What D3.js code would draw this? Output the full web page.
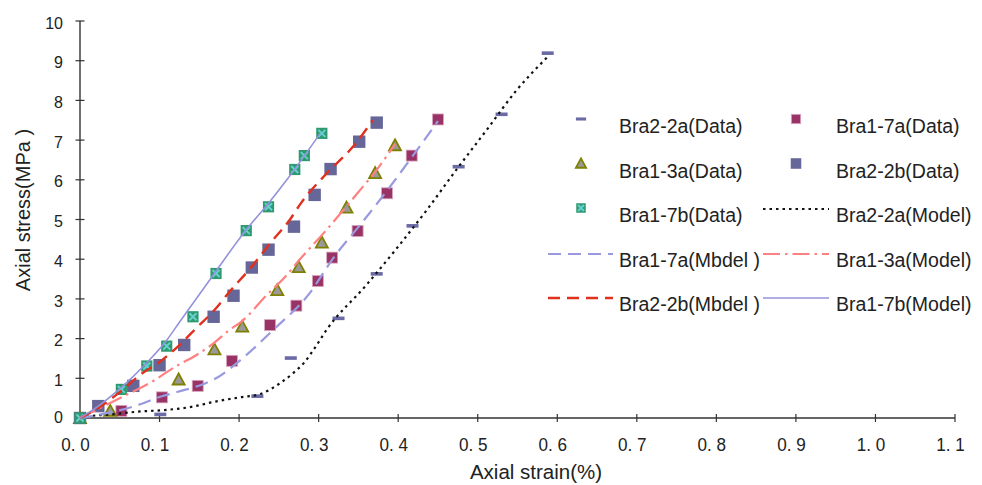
<!DOCTYPE html>
<html>
<head>
<meta charset="utf-8">
<script src="https://cdn.jsdelivr.net/npm/d3@7/dist/d3.min.js"></script>
<style>
  html, body { margin: 0; padding: 0; background: #fff; }
  svg { display: block; font-family: "Liberation Sans", Arial, sans-serif; }
</style>
</head>
<body>
<svg id="chart" width="982" height="485"></svg>
<script>
// ---- Measured data (axial strain in %, axial stress in MPa) ----
const bra22aDataStrain = [0.101, 0.223, 0.265, 0.325, 0.373, 0.418, 0.476, 0.530, 0.588];
const bra22aDataStress = [0.09, 0.55, 1.51, 2.51, 3.63, 4.84, 6.33, 7.65, 9.19];

const bra17aDataStrain = [0, 0.052, 0.103, 0.148, 0.191, 0.239, 0.272, 0.299, 0.317, 0.349, 0.386, 0.417, 0.450];
const bra17aDataStress = [0, 0.18, 0.52, 0.81, 1.44, 2.34, 2.83, 3.45, 4.04, 4.71, 5.66, 6.61, 7.52];

const bra13aDataStrain = [0, 0.038, 0.124, 0.169, 0.204, 0.248, 0.275, 0.304, 0.335, 0.371, 0.396];
const bra13aDataStress = [0, 0.18, 0.97, 1.73, 2.30, 3.22, 3.80, 4.42, 5.30, 6.17, 6.87];

const bra22bDataStrain = [0, 0.023, 0.067, 0.100, 0.131, 0.168, 0.193, 0.216, 0.237, 0.269, 0.295, 0.315, 0.351, 0.373];
const bra22bDataStress = [0, 0.30, 0.81, 1.33, 1.84, 2.55, 3.08, 3.79, 4.24, 4.82, 5.62, 6.27, 6.96, 7.44];

const bra17bDataStrain = [0, 0.052, 0.084, 0.109, 0.142, 0.171, 0.209, 0.237, 0.270, 0.282, 0.304];
const bra17bDataStress = [0, 0.72, 1.31, 1.81, 2.55, 3.64, 4.72, 5.32, 6.26, 6.61, 7.17];

// ---- Model curves ----
const bra22aModelStrain = [0, 0.010, 0.039, 0.073, 0.106, 0.140, 0.169, 0.201, 0.226, 0.251, 0.268, 0.282, 0.295, 0.310, 0.360, 0.398, 0.436, 0.473, 0.511, 0.549, 0.588];
const bra22aModelStress = [0, 0.04, 0.09, 0.16, 0.20, 0.28, 0.41, 0.52, 0.60, 0.87, 1.13, 1.40, 1.76, 2.22, 3.35, 4.27, 5.24, 6.25, 7.25, 8.26, 9.10];

const bra17aModelStrain = [0, 0.023, 0.069, 0.102, 0.123, 0.157, 0.171, 0.197, 0.243, 0.287, 0.321, 0.352, 0.385, 0.419, 0.450];
const bra17aModelStress = [0, 0.08, 0.30, 0.54, 0.66, 0.87, 1.00, 1.38, 2.22, 3.10, 4.10, 4.86, 5.70, 6.62, 7.48];

const bra13aModelStrain = [0, 0.030, 0.058, 0.090, 0.123, 0.146, 0.169, 0.188, 0.203, 0.235, 0.260, 0.274, 0.306, 0.352, 0.373, 0.396];
const bra13aModelStress = [0, 0.30, 0.58, 0.91, 1.33, 1.58, 1.90, 2.22, 2.43, 3.10, 3.60, 3.94, 4.65, 5.74, 6.25, 6.90];

const bra22bModelStrain = [0, 0.025, 0.053, 0.077, 0.098, 0.123, 0.147, 0.169, 0.188, 0.214, 0.239, 0.264, 0.278, 0.310, 0.343, 0.368];
const bra22bModelStress = [0, 0.28, 0.70, 1.11, 1.38, 1.80, 2.28, 2.72, 3.18, 3.77, 4.40, 5.00, 5.42, 6.16, 6.83, 7.50];

const bra17bModelStrain = [0, 0.023, 0.052, 0.081, 0.106, 0.127, 0.145, 0.172, 0.209, 0.237, 0.260, 0.302];
const bra17bModelStress = [0, 0.30, 0.77, 1.33, 1.88, 2.47, 2.97, 3.73, 4.74, 5.41, 6.00, 7.17];

// ---- Axis ticks ----
const xTicks = [0, 0.1, 0.2, 0.3, 0.4, 0.5, 0.6, 0.7, 0.8, 0.9, 1.0, 1.1];
const xTickLabels = ["0. 0", "0. 1", "0. 2", "0. 3", "0. 4", "0. 5", "0. 6", "0. 7", "0. 8", "0. 9", "1. 0", "1. 1"];
const yTicks = [0, 1, 2, 3, 4, 5, 6, 7, 8, 9, 10];

const xTitle = "Axial strain(%)";
const yTitle = "Axial stress(MPa )";

const zip = (xs, ys) => xs.map((x, i) => ({ x, y: ys[i] }));

const svg = d3.select("#chart");
const x = d3.scaleLinear().domain([0, 1.1]).range([80, 955]);
const y = d3.scaleLinear().domain([0, 10]).range([418, 21]);
const axisColor = "#333";

// ---- Axes (ticks cross the axis line) ----
const gx = svg.append("g").attr("transform", `translate(0,${y(0)})`);
gx.append("line").attr("x1", x(0)).attr("x2", x(1.1)).attr("stroke", axisColor).attr("stroke-width", 1.4);
gx.selectAll("line.tick").data(xTicks).join("line").attr("class", "tick")
  .attr("x1", d => x(d)).attr("x2", d => x(d)).attr("y1", -4).attr("y2", 4)
  .attr("stroke", axisColor).attr("stroke-width", 1.2);
gx.selectAll("text").data(xTicks).join("text")
  .attr("transform", d => `translate(${x(d) - 4.5},33) scale(0.9,1)`)
  .attr("text-anchor", "middle").attr("font-size", 19).attr("fill", "#222")
  .text((d, i) => xTickLabels[i]);

const gy = svg.append("g").attr("transform", `translate(${x(0)},0)`);
gy.append("line").attr("y1", y(0)).attr("y2", y(10)).attr("stroke", axisColor).attr("stroke-width", 1.4);
gy.selectAll("line.tick").data(yTicks).join("line").attr("class", "tick")
  .attr("y1", d => y(d)).attr("y2", d => y(d)).attr("x1", -4.5).attr("x2", 4.5)
  .attr("stroke", axisColor).attr("stroke-width", 1.2);
gy.selectAll("text").data(yTicks).join("text")
  .attr("x", -17).attr("y", d => y(d) + (d === 0 ? -1 : 2)).attr("dy", "0.35em")
  .attr("text-anchor", "end").attr("font-size", 16).attr("fill", "#222")
  .text(d => d);

svg.append("text").attr("x", 536).attr("y", 479).attr("text-anchor", "middle")
  .attr("font-size", 20.5).attr("fill", "#222").text(xTitle);
svg.append("text").attr("transform", "translate(30,210) rotate(-90)").attr("text-anchor", "middle")
  .attr("font-size", 20).attr("fill", "#222").text(yTitle);

// ---- Marker drawing helpers ----
const markers = {
  dash: (g, s) => g.append("rect").attr("x", -6 * s).attr("y", -1.8 * s).attr("width", 12 * s).attr("height", 3.6 * s)
    .attr("fill", "#6a6aa6"),
  maroon: (g, s) => g.append("rect").attr("x", -5.5 * s).attr("y", -5.5 * s).attr("width", 11 * s).attr("height", 11 * s)
    .attr("fill", "#993366").attr("stroke", "#d9a6c0").attr("stroke-width", 0.8),
  triangle: (g, s) => g.append("path").attr("d", `M0,${-6 * s} L${6 * s},${5 * s} L${-6 * s},${5 * s} Z`)
    .attr("fill", "#999999").attr("stroke", "#808000").attr("stroke-width", 1.8),
  blue: (g, s) => g.append("rect").attr("x", -6.2 * s).attr("y", -6.2 * s).attr("width", 12.4 * s).attr("height", 12.4 * s)
    .attr("fill", "#666699"),
  green: (g, s) => {
    g.append("rect").attr("x", -5.6 * s).attr("y", -5.6 * s).attr("width", 11.2 * s).attr("height", 11.2 * s)
      .attr("fill", "#2f9a6e");
    g.append("path").attr("d", `M${-3.5 * s},${-3.5 * s} L${3.5 * s},${3.5 * s} M${3.5 * s},${-3.5 * s} L${-3.5 * s},${3.5 * s}`)
      .attr("stroke", "#66d0d0").attr("stroke-width", 2);
  }
};

const dataSeries = [
  { name: "Bra2-2a(Data)", pts: zip(bra22aDataStrain, bra22aDataStress), marker: "dash" },
  { name: "Bra1-7a(Data)", pts: zip(bra17aDataStrain, bra17aDataStress), marker: "maroon" },
  { name: "Bra1-3a(Data)", pts: zip(bra13aDataStrain, bra13aDataStress), marker: "triangle" },
  { name: "Bra2-2b(Data)", pts: zip(bra22bDataStrain, bra22bDataStress), marker: "blue" },
  { name: "Bra1-7b(Data)", pts: zip(bra17bDataStrain, bra17bDataStress), marker: "green" }
];

const modelSeries = [
  { name: "Bra2-2a(Model)", pts: zip(bra22aModelStrain, bra22aModelStress), color: "#111", width: 2.2, dash: "2.5,4" },
  { name: "Bra1-7a(Mbdel )", pts: zip(bra17aModelStrain, bra17aModelStress), color: "#9999e0", width: 2.2, dash: "13,7" },
  { name: "Bra1-3a(Model)", pts: zip(bra13aModelStrain, bra13aModelStress), color: "#ff8080", width: 2.2, dash: "17,5,2.5,5" },
  { name: "Bra2-2b(Mbdel )", pts: zip(bra22bModelStrain, bra22bModelStress), color: "#e0301e", width: 2.4, dash: "12,7" },
  { name: "Bra1-7b(Model)", pts: zip(bra17bModelStrain, bra17bModelStress), color: "#9393dc", width: 1.6, dash: null }
];

// ---- Data markers ----
dataSeries.forEach(s => {
  const g = svg.append("g");
  s.pts.forEach(p => {
    const m = g.append("g").attr("transform", `translate(${x(p.x)},${y(p.y)})`);
    markers[s.marker](m, 1);
  });
});

// ---- Model lines ----
const line = d3.line().x(d => x(d.x)).y(d => y(d.y)).curve(d3.curveMonotoneX);
modelSeries.forEach(s => {
  svg.append("path").datum(s.pts).attr("d", line).attr("fill", "none")
    .attr("stroke", s.color).attr("stroke-width", s.width)
    .attr("stroke-dasharray", s.dash);
});

// ---- Legend (two columns) ----
const legendItems = [
  { ...dataSeries[0] }, { ...dataSeries[1] },
  { ...dataSeries[2] }, { ...dataSeries[3] },
  { ...dataSeries[4] }, { ...modelSeries[0] },
  { ...modelSeries[1] }, { ...modelSeries[2] },
  { ...modelSeries[3] }, { ...modelSeries[4] }
];
const rowBase = [133, 177.5, 222, 267, 311];
const colText = [619, 836];
const colMarker = [581, 796];
const colLine = [[548, 613], [763, 829]];

legendItems.forEach((it, i) => {
  const r = Math.floor(i / 2), c = i % 2;
  const base = rowBase[r];
  const g = svg.append("g");
  if (it.marker) {
    const m = g.append("g").attr("transform", `translate(${colMarker[c]},${base - 14})`);
    markers[it.marker](m, 0.85);
  } else {
    g.append("line").attr("x1", colLine[c][0]).attr("x2", colLine[c][1])
      .attr("y1", base - 13).attr("y2", base - 13)
      .attr("stroke", it.color).attr("stroke-width", it.width)
      .attr("stroke-dasharray", it.dash);
  }
  g.append("text").attr("x", colText[c]).attr("y", base)
    .attr("font-size", 19.5).attr("fill", "#222").text(it.name);
});
</script>
</body>
</html>
